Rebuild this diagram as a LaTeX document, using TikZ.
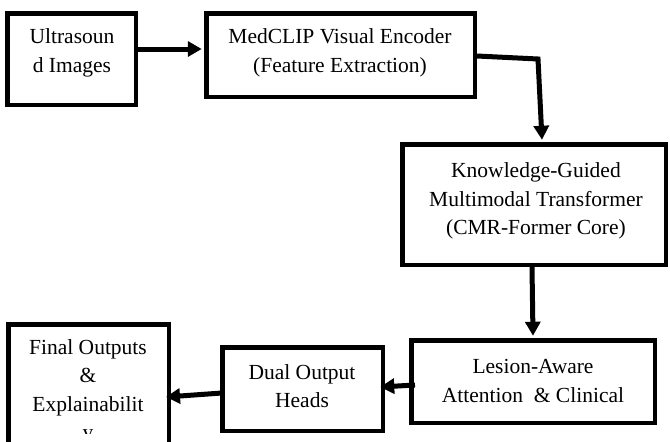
\documentclass[tikz,border=0pt]{standalone}
\usepackage{fontspec}
\setmainfont{Liberation Serif}
\usetikzlibrary{arrows.meta,calc}
\begin{document}
\begin{tikzpicture}[x=1pt,y=-1pt,
  box/.style={draw=black,line width=4.5pt,rectangle,inner sep=0pt,fill=none},
  lbl/.style={align=center,inner sep=0pt,font=\fontsize{21.5}{28.5}\selectfont},
  arr/.style={draw=black,line width=5pt,-{Triangle[length=14pt,width=15pt]}}]
\clip (0,0) rectangle (670,442);
\fill[white] (0,0) rectangle (670,442);
% boxes
\node[box,minimum width=128.5pt,minimum height=91.5pt] (b1) at (71.5,59) {};
\node[box,minimum width=268.5pt,minimum height=83.5pt] (b2) at (340.5,55) {};
\node[box,minimum width=263.5pt,minimum height=120.5pt] (b3) at (534,204.5) {};
\node[box,minimum width=243.5pt,minimum height=82.5pt] (b4) at (533,381.5) {};
\node[box,minimum width=160.5pt,minimum height=83.5pt] (b5) at (302.5,389) {};
\node[box,minimum width=160.5pt,minimum height=133.5pt] (b6) at (88.5,391) {};
% labels
\node[lbl] (t1) at (72,53) {Ultrasoun\\d Images};
\node[lbl] (t2) at (340,53) {MedCLIP Visual Encoder\\(Feature Extraction)};
\node[lbl] (t3) at (536,201) {Knowledge-Guided\\Multimodal Transformer\\(CMR-Former Core)};
\node[lbl] (t4) at (533,381) {Lesion-Aware\\Attention~ \& Clinical};
\node[lbl] (t5) at (302,386) {Dual Output\\Heads};
\begin{scope}
\clip (0,0) rectangle (670,433);
\node[lbl] (t6) at (88,392) {Final Outputs\\\&\\Explainabilit\\y};
\end{scope}
% connectors
\draw[arr] ([xshift=-2.75pt,yshift=10pt]b1.east) -- ([xshift=-2.25pt,yshift=6pt]b2.west);
\coordinate (bend) at (538,59);
\draw[arr] ([yshift=-1pt]b2.east) -- (bend) -- ([xshift=8pt,yshift=2.25pt]b3.north);
\draw[arr] ([xshift=-2pt]b3.south) -- ([yshift=2.25pt]b4.north);
\draw[arr] ([xshift=6pt,yshift=-3.5pt]b4.west) -- ([xshift=-4.75pt,yshift=2pt]b5.east);
\draw[arr] ([xshift=2pt,yshift=-4pt]b5.west) -- ([xshift=-5pt,yshift=-6pt]b6.east);
\end{tikzpicture}
\end{document}
